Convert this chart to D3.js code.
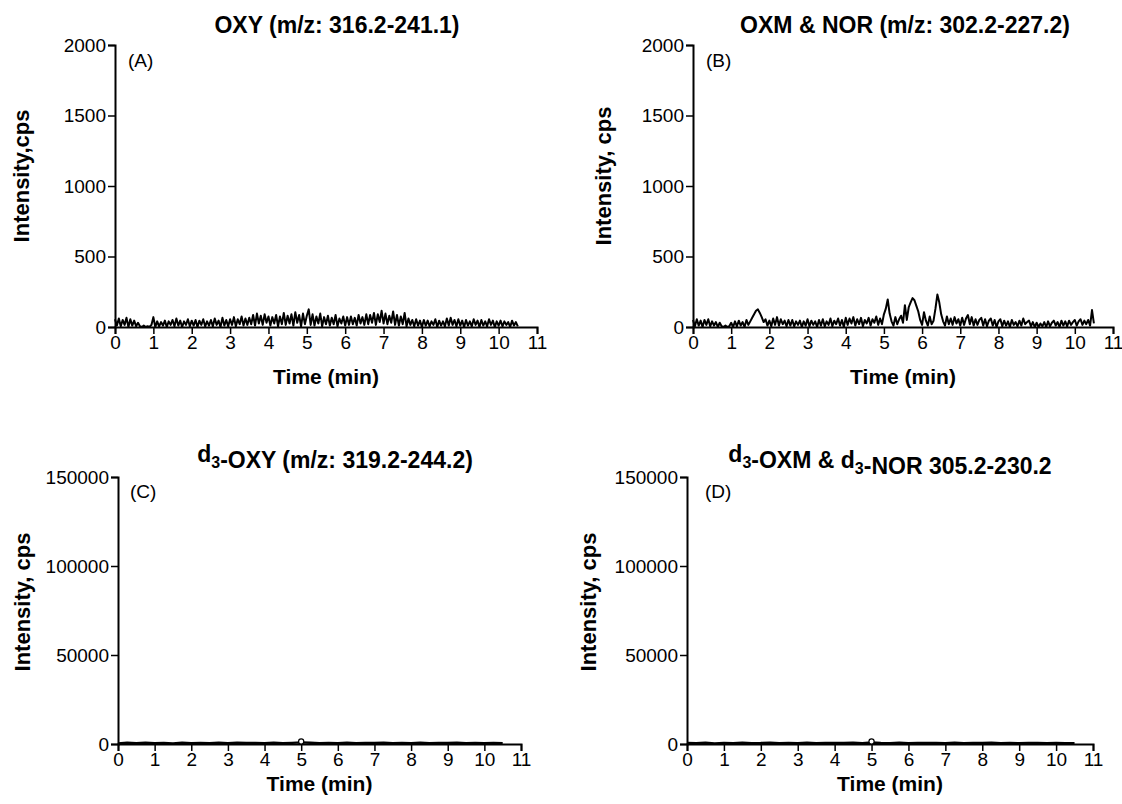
<!DOCTYPE html>
<html>
<head>
<meta charset="utf-8">
<script src="https://cdn.jsdelivr.net/npm/d3@7"></script>
<style>
	body { margin: 0; background: #fff; }
	svg { display: block; font-family: "Liberation Sans", Arial, Helvetica, sans-serif; }
</style>
</head>
<body>
<svg id="chart" width="1122" height="804"></svg>
<script>
/* DATA */

// scan times (min) of the analyte traces (A, B)
var scanTimes = [
	0, 0.05, 0.1, 0.15, 0.2, 0.25, 0.3, 0.35, 0.4, 0.45, 0.5, 0.55, 0.6, 0.65, 0.7, 0.75, 0.8, 0.85, 0.9, 0.95,
	1, 1.05, 1.1, 1.15, 1.2, 1.25, 1.3, 1.35, 1.4, 1.45, 1.5, 1.55, 1.6, 1.65, 1.7, 1.75, 1.8, 1.85, 1.9, 1.95,
	2, 2.05, 2.1, 2.15, 2.2, 2.25, 2.3, 2.35, 2.4, 2.45, 2.5, 2.55, 2.6, 2.65, 2.7, 2.75, 2.8, 2.85, 2.9, 2.95,
	3, 3.05, 3.1, 3.15, 3.2, 3.25, 3.3, 3.35, 3.4, 3.45, 3.5, 3.55, 3.6, 3.65, 3.7, 3.75, 3.8, 3.85, 3.9, 3.95,
	4, 4.05, 4.1, 4.15, 4.2, 4.25, 4.3, 4.35, 4.4, 4.45, 4.5, 4.55, 4.6, 4.65, 4.7, 4.75, 4.8, 4.85, 4.9, 4.95,
	5, 5.05, 5.1, 5.15, 5.2, 5.25, 5.3, 5.35, 5.4, 5.45, 5.5, 5.55, 5.6, 5.65, 5.7, 5.75, 5.8, 5.85, 5.9, 5.95,
	6, 6.05, 6.1, 6.15, 6.2, 6.25, 6.3, 6.35, 6.4, 6.45, 6.5, 6.55, 6.6, 6.65, 6.7, 6.75, 6.8, 6.85, 6.9, 6.95,
	7, 7.05, 7.1, 7.15, 7.2, 7.25, 7.3, 7.35, 7.4, 7.45, 7.5, 7.55, 7.6, 7.65, 7.7, 7.75, 7.8, 7.85, 7.9, 7.95,
	8, 8.05, 8.1, 8.15, 8.2, 8.25, 8.3, 8.35, 8.4, 8.45, 8.5, 8.55, 8.6, 8.65, 8.7, 8.75, 8.8, 8.85, 8.9, 8.95,
	9, 9.05, 9.1, 9.15, 9.2, 9.25, 9.3, 9.35, 9.4, 9.45, 9.5, 9.55, 9.6, 9.65, 9.7, 9.75, 9.8, 9.85, 9.9, 9.95,
	10, 10.05, 10.1, 10.15, 10.2, 10.25, 10.3, 10.35, 10.4, 10.45, 10.5
];

// OXY 316.2 > 241.1 (cps)
var oxyCounts = [
	55, 10, 60, 5, 50, 15, 65, 0, 55, 10, 45, 5, 30,
	5, 0, 10, 0, 5, 0, 15,
	70, 0, 40, 5, 35, 10, 45, 0, 40, 15, 50,
	5, 60, 10, 45, 0, 40, 15, 55, 5, 45,
	10, 50, 0, 45, 15, 55, 5, 40, 10, 50,
	5, 60, 15, 45, 0, 65, 10, 50, 5, 55,
	15, 70, 5, 55, 20, 75, 10, 60, 15, 65,
	20, 85, 10, 95, 25, 80, 15, 90, 30, 75,
	10, 70, 25, 85, 5, 75, 20, 100, 15, 80,
	25, 90, 10, 105, 30, 85, 5, 95, 20, 80,
	125, 15, 90, 10, 75, 25, 95, 5, 70, 20,
	80, 10, 65, 20, 85, 5, 60, 25, 75, 10,
	70, 15, 75, 20, 65, 10, 85, 25, 70, 15,
	90, 20, 85, 30, 100, 15, 90, 35, 115, 25,
	95, 20, 80, 30, 110, 15, 85, 10, 75, 20,
	100, 5, 60, 15, 50, 5, 55, 10, 45, 0,
	50, 10, 45, 5, 40, 15, 55, 0, 45, 10,
	40, 5, 60, 10, 65, 15, 50, 5, 55, 10,
	45, 0, 50, 10, 40, 5, 55, 15, 45, 0,
	50, 10, 40, 5, 55, 15, 45, 0, 40, 10,
	45, 5, 40, 15, 35, 0, 45, 10, 35, 5
];

// OXM & NOR 302.2 > 227.2 (cps)
var oxmNorCounts = [
	50, 5, 55, 10, 45, 0, 50, 15, 55, 5, 40,
	10, 35, 0, 30, 5, 0, 10, 0, 5,
	30, 0, 40, 5, 45, 10, 35, 0, 50, 15, 40,
	65, 90, 115, 125, 100, 70, 35, 55, 10, 45,
	5, 60, 15, 70, 10, 55, 20, 45, 5, 50,
	10, 50, 5, 40, 15, 45, 0, 40, 10, 55,
	5, 45, 15, 40, 0, 50, 10, 55, 5, 40,
	15, 60, 5, 45, 20, 60, 10, 50, 0, 65,
	15, 60, 25, 70, 10, 55, 20, 65, 5, 50,
	25, 65, 10, 55, 30, 75, 15, 60, 20, 90,
	130, 195, 95, 40, 10, 70, 20, 55, 80, 30,
	155, 50, 140, 175, 205, 190, 150, 110, 50, 15,
	105, 45, 10, 75, 20, 45, 130, 230, 175, 90,
	40, 10, 75, 20, 60, 15, 70, 25, 55, 10,
	65, 15, 60, 85, 20, 70, 10, 55, 15, 50,
	65, 10, 55, 5, 45, 60, 10, 50, 0, 40,
	55, 5, 45, 10, 40, 0, 50, 15, 35, 5,
	45, 10, 60, 20, 35, 45, 5, 35, 0, 30,
	0, 25, 5, 35, 0, 40, 5, 30, 45, 10,
	35, 0, 45, 10, 40, 5, 45, 15, 35, 50,
	10, 40, 55, 15, 45, 20, 50, 10, 120, 25
];

// scan times (min) of the internal standard traces (C, D)
var isTimes = [
	0, 0.25, 0.5, 0.75, 1, 1.25, 1.5, 1.75, 2, 2.25, 2.5, 2.75, 3, 3.25, 3.5, 3.75, 4, 4.25, 4.5, 4.75,
	5, 5.25, 5.5, 5.75, 6, 6.25, 6.5, 6.75, 7, 7.25, 7.5, 7.75, 8, 8.25, 8.5, 8.75, 9, 9.25, 9.5, 9.75,
	10, 10.25, 10.5
];

// d3-OXY 319.2 > 244.2 (cps)
var d3OxyCounts = [
	300, 700, 400, 800, 500, 600, 350, 750, 450, 650, 500, 700, 400, 800, 550, 600, 450, 750, 500, 650,
	900, 700, 450, 600, 500, 750, 400, 650, 550, 700, 450, 600, 500, 800, 400, 650, 550, 700, 450, 600,
	500, 650, 400
];

// d3-OXM & d3-NOR 305.2 > 230.2 (cps)
var d3OxmNorCounts = [
	600, 400, 750, 350, 650, 500, 700, 450, 550, 800, 400, 600, 500, 700, 450, 650, 550, 600, 700, 500,
	850, 600, 500, 700, 450, 650, 550, 600, 500, 750, 450, 600, 550, 700, 500, 650, 450, 600, 550, 500,
	650, 450, 500
];

// retention marks on the internal standard traces
var isMarkTime = 5.0,
	isMarkCounts = 1400;

// texts + ticks
var panelTitles = [ "OXY (m/z: 316.2-241.1)", "OXM & NOR (m/z: 302.2-227.2)", "d_3-OXY (m/z: 319.2-244.2)", "d_3-OXM & d_3-NOR 305.2-230.2" ],
	panelTags = [ "(A)", "(B)", "(C)", "(D)" ],
	yLabels = [ "Intensity,cps", "Intensity, cps", "Intensity, cps", "Intensity, cps" ],
	xLabel = "Time (min)",
	timeTicks = [ 0, 1, 2, 3, 4, 5, 6, 7, 8, 9, 10, 11 ],
	analyteTicks = [ 0, 500, 1000, 1500, 2000 ],
	isTicks = [ 0, 50000, 100000, 150000 ];

/* LAYOUT (pixels) */
var panels = [
	{ left: 115, right: 537, top: 45, bottom: 327, titleX: 337, titleY: 33, labelX: 21, labelY: 176, tagX: 128, tagY: 67, xLabelY: 384, times: scanTimes, counts: oxyCounts, ticks: analyteTicks, lineW: 2 },
	{ left: 693, right: 1113, top: 45, bottom: 327, titleX: 905, titleY: 33, labelX: 603, labelY: 176, tagX: 706, tagY: 67, xLabelY: 384, times: scanTimes, counts: oxmNorCounts, ticks: analyteTicks, lineW: 2 },
	{ left: 118, right: 521, top: 477, bottom: 744, titleX: 335, titleY: 462, labelX: 22, labelY: 602, tagX: 130, tagY: 498, xLabelY: 791, times: isTimes, counts: d3OxyCounts, ticks: isTicks, lineW: 2.4, mark: true },
	{ left: 687, right: 1093, top: 477, bottom: 744, titleX: 890, titleY: 462, labelX: 588, labelY: 602, tagX: 705, tagY: 498, xLabelY: 791, times: isTimes, counts: d3OxmNorCounts, ticks: isTicks, lineW: 2.4, mark: true }
];

var svg = d3.select( "#chart" );

panels.forEach( function ( p, i ) {
	var g = svg.append( "g" );

	// X AXIS
	var x = d3.scaleLinear()
		.domain( [ 0, 11 ] )
		.range( [ p.left, p.right ] );

	// Y AXIS
	var y = d3.scaleLinear()
		.domain( [ 0, d3.max( p.ticks ) ] )
		.range( [ p.bottom, p.top ] );

	var xAxis = g.append( "g" )
		.attr( "transform", "translate(0," + p.bottom + ")" )
		.call( d3.axisBottom( x ).tickValues( timeTicks ).tickSizeOuter( 0 ).tickSize( 7 ).tickPadding( 2 ) );

	var yAxis = g.append( "g" )
		.attr( "transform", "translate(" + p.left + ",0)" )
		.call( d3.axisLeft( y ).tickValues( p.ticks ).tickFormat( d3.format( "d" ) ).tickSizeOuter( 0 ).tickSize( 7 ).tickPadding( 2 ) );

	[ xAxis, yAxis ].forEach( function ( a ) {
		a.select( ".domain" ).attr( "stroke", "#000" ).attr( "stroke-width", 2 );
		a.selectAll( ".tick line" ).attr( "stroke", "#000" ).attr( "stroke-width", 1.5 );
		a.selectAll( ".tick text" )
			.attr( "fill", "#000" )
			.style( "font-size", "19px" )
			.style( "font-family", "\"Liberation Sans\", Arial, sans-serif" );
	} );

	// chromatogram trace
	var line = d3.line()
		.x( function ( d, k ) { return x( p.times[ k ] ); } )
		.y( function ( d ) { return y( d ); } );

	g.append( "path" )
		.datum( p.counts )
		.attr( "fill", "none" )
		.attr( "stroke", "#000" )
		.attr( "stroke-width", p.lineW )
		.attr( "stroke-linejoin", "round" )
		.attr( "d", line );

	if ( p.mark ) {
		g.append( "circle" )
			.attr( "cx", x( isMarkTime ) )
			.attr( "cy", y( isMarkCounts ) )
			.attr( "r", 2.6 )
			.attr( "fill", "#fff" )
			.attr( "stroke", "#000" )
			.attr( "stroke-width", 1.2 );
	}

	// title, with subscripts written as "_3"
	var title = g.append( "text" )
		.attr( "x", p.titleX )
		.attr( "y", p.titleY )
		.attr( "text-anchor", "middle" )
		.style( "font-size", "23px" )
		.style( "font-weight", "bold" );

	panelTitles[ i ].split( /(_\d)/ ).forEach( function ( part ) {
		if ( part === "" ) return;
		if ( part.charAt( 0 ) === "_" ) {
			title.append( "tspan" ).attr( "dy", 6 ).style( "font-size", "16px" ).text( part.slice( 1 ) );
			title.append( "tspan" ).attr( "dy", -6 ).text( "" );
		} else {
			title.append( "tspan" ).text( part );
		}
	} );

	// panel tag
	g.append( "text" )
		.attr( "x", p.tagX )
		.attr( "y", p.tagY )
		.style( "font-size", "19px" )
		.text( panelTags[ i ] );

	// axis labels
	g.append( "text" )
		.attr( "transform", "translate(" + p.labelX + "," + p.labelY + ") rotate(-90)" )
		.attr( "text-anchor", "middle" )
		.attr( "dy", "0.36em" )
		.style( "font-size", "22px" )
		.style( "font-weight", "bold" )
		.text( yLabels[ i ] );

	g.append( "text" )
		.attr( "x", ( p.left + p.right ) / 2 )
		.attr( "y", p.xLabelY )
		.attr( "text-anchor", "middle" )
		.style( "font-size", "21px" )
		.style( "font-weight", "bold" )
		.text( xLabel );
} );
</script>
</body>
</html>
